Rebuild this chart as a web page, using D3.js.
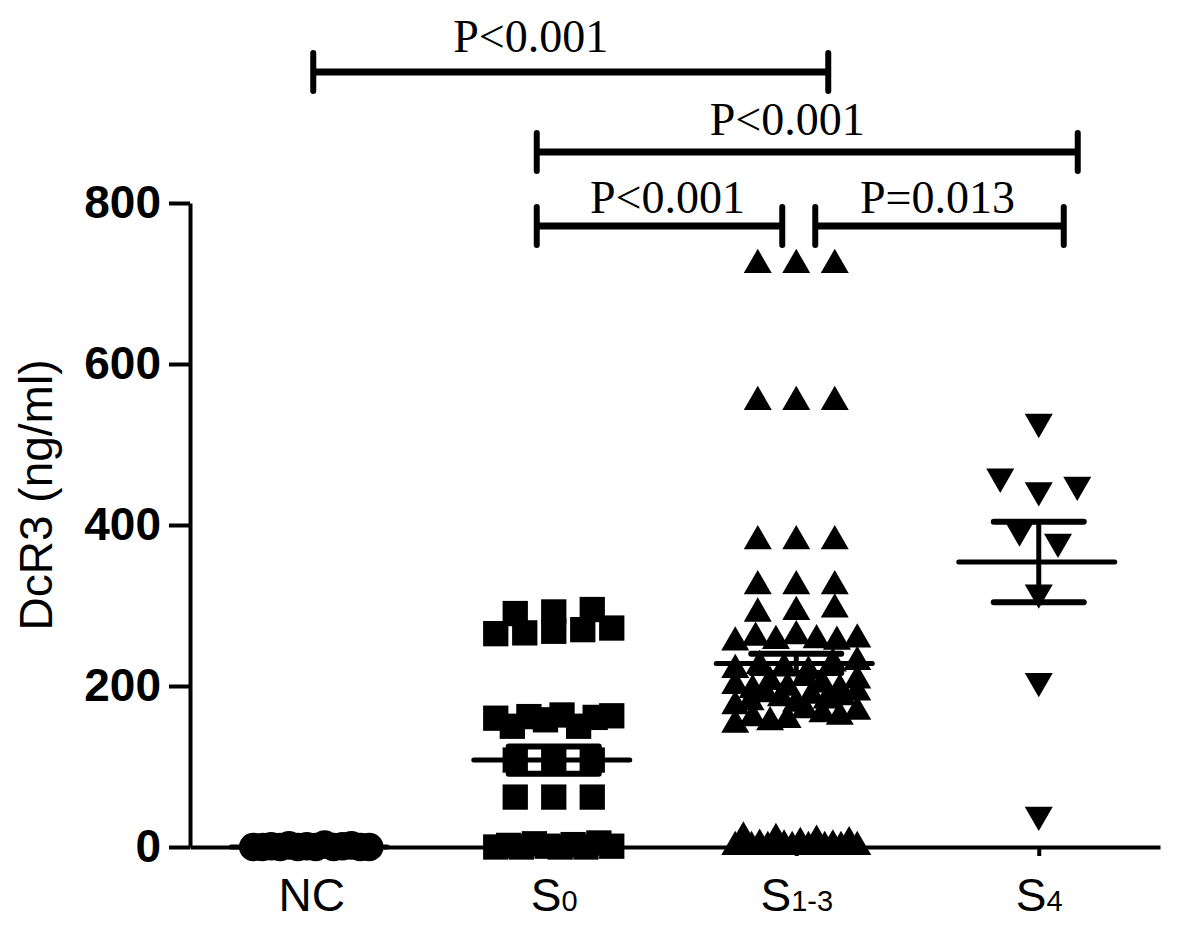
<!DOCTYPE html>
<html>
<head>
<meta charset="utf-8">
<script src="https://cdn.jsdelivr.net/npm/d3@7"></script>
<style>
  body { margin: 0; background: #fff; }
  svg { display: block; }
</style>
</head>
<body>
<svg id="chart"></svg>
<script>
// groups and the values
const groups = ["NC", "S0", "S1-3", "S4"];
const ncValues = [0, 0, 1, 0, 2, 0, 1, 0, 3, 0, 1, 2, 0, 0];
const s0Values = [0, 2, 0, 4, 1, 0, 3, 0, 5, 1,
  62, 62, 62, 108, 108, 108,
  160, 150, 162, 158, 164, 150, 161, 163,
  265, 266, 268, 270, 272, 290, 292, 295];
const s13Values = [0, 12, 0, 3, 0, 10, 2, 0, 5, 0, 8, 0, 2, 0, 6, 0,
  152, 160, 155, 158, 170, 165, 175, 162, 168,
  180, 190, 185, 178, 188, 182, 186, 192,
  200, 195, 205, 198, 210, 202, 196, 207,
  220, 225, 222, 218, 228, 230,
  254, 260, 256, 262, 257, 255, 258, 290, 292, 295,
  324, 324, 324, 380, 380, 380, 553, 553, 553, 723, 723, 723];
const s4Values = [528, 460, 443, 450, 393, 379, 316, 206, 40];
const groupValues = [ncValues, s0Values, s13Values, s4Values];
const means = [0, 108, 228, 354];
const sems = [0, 17, 12, 50];
const yTicks = [0, 200, 400, 600, 800];
const markerTypes = ["circle", "square", "up", "down"];
const brackets = [
  { from: "NC", to: "S1-3", label: "P<0.001" },
  { from: "S0", to: "S4", label: "P<0.001" },
  { from: "S0", to: "S1-3", label: "P<0.001" },
  { from: "S1-3", to: "S4", label: "P=0.013" }
];

const width = 1181, height = 927;
const margin = { top: 203, right: 21, bottom: 80, left: 190 };
const svg = d3.select("#chart").attr("width", width).attr("height", height);

const innerW = width - margin.left - margin.right;
const innerH = height - margin.top - margin.bottom;

const xScale = d3.scalePoint().domain(groups).range([0, innerW]).padding(0.5);
const yScale = d3.scaleLinear().domain([0, 800]).range([innerH, 0]);

const g = svg.append("g").attr("transform", `translate(${margin.left},${margin.top})`);

// spread points that share a value level, like a column scatter
const spreadRows = (values, tol, maxHalf, step) => {
  const pts = values.map((v, i) => ({ v, i })).sort((a, b) => a.v - b.v);
  const rows = [];
  pts.forEach((p) => {
    const r = rows[rows.length - 1];
    if (r && p.v - r.start <= tol) r.pts.push(p);
    else rows.push({ start: p.v, pts: [p] });
  });
  const out = [];
  rows.forEach((r) => {
    r.pts.sort((a, b) => a.i - b.i);
    const n = r.pts.length;
    const sp = n > 1 ? Math.min(step, (2 * maxHalf) / (n - 1)) : 0;
    r.pts.forEach((p, k) => out.push({ value: p.v, dx: (k - (n - 1) / 2) * sp }));
  });
  return out;
};

// axes
const yAxis = d3.axisLeft(yScale).tickValues(yTicks).tickSize(21).tickSizeOuter(0).tickPadding(8);
const yAxisG = g.append("g").call(yAxis);
yAxisG.select(".domain").attr("stroke-width", 4);
yAxisG.selectAll(".tick line").attr("stroke-width", 4);
yAxisG.selectAll(".tick text")
  .attr("font-family", "Liberation Sans, Arial, sans-serif")
  .attr("font-weight", "bold")
  .attr("font-size", 46)
  .attr("fill", "#000");

const xAxis = d3.axisBottom(xScale).tickSize(9).tickSizeOuter(0).tickFormat("");
const xAxisG = g.append("g").attr("transform", `translate(0,${innerH})`).call(xAxis);
xAxisG.select(".domain").attr("stroke-width", 4);
xAxisG.selectAll(".tick line").attr("stroke-width", 4);

const xLabels = xAxisG.selectAll(".tick")
  .append("text")
  .attr("y", 64)
  .attr("text-anchor", "middle")
  .attr("fill", "#000")
  .attr("font-family", "Liberation Sans, Arial, sans-serif")
  .attr("font-size", 46);
xLabels.each(function (d) {
  const t = d3.select(this);
  if (d === "NC") {
    t.text("NC");
  } else {
    t.append("tspan").text("S");
    t.append("tspan").attr("font-size", 29).text(d.slice(1));
  }
});

svg.append("text")
  .attr("transform", `translate(52,495) rotate(-90)`)
  .attr("text-anchor", "middle")
  .attr("font-family", "Liberation Sans, Arial, sans-serif")
  .attr("font-size", 46)
  .attr("fill", "#000")
  .text("DcR3 (ng/ml)");

// markers
const symbolFor = {
  circle: d3.symbol().type(d3.symbolCircle).size(640)(),
  square: d3.symbol().type(d3.symbolSquare).size(640)(),
  up: d3.symbol().type(d3.symbolTriangle).size(340)(),
  down: d3.symbol().type(d3.symbolTriangle).size(340)()
};

groups.forEach((grp, gi) => {
  const pts = spreadRows(groupValues[gi], 18, gi === 2 ? 61 : 58, 38.5);
  g.append("g")
    .selectAll("path")
    .data(pts)
    .enter()
    .append("path")
    .attr("d", symbolFor[markerTypes[gi]])
    .attr("fill", "#000")
    .attr("transform", (d) =>
      `translate(${xScale(grp) + d.dx},${yScale(d.value)})` +
      (markerTypes[gi] === "down" ? " rotate(180)" : ""));
});

// mean and SEM
const statG = g.append("g")
  .attr("stroke", "#000")
  .attr("stroke-linecap", "round");
groups.forEach((grp, gi) => {
  const cx = xScale(grp);
  statG.append("line")
    .attr("x1", cx - 80).attr("x2", cx + 76)
    .attr("y1", yScale(means[gi])).attr("y2", yScale(means[gi]))
    .attr("stroke-width", 5);
  if (sems[gi] > 0) {
    [means[gi] - sems[gi], means[gi] + sems[gi]].forEach((v) => {
      statG.append("line")
        .attr("x1", cx - 45).attr("x2", cx + 45)
        .attr("y1", yScale(v)).attr("y2", yScale(v))
        .attr("stroke-width", 6);
    });
    statG.append("line")
      .attr("x1", cx).attr("x2", cx)
      .attr("y1", yScale(means[gi] - sems[gi])).attr("y2", yScale(means[gi] + sems[gi]))
      .attr("stroke-width", 5);
  }
});

// significance brackets, placed in page pixels above the plot
const bracketLayout = [
  { y: 72, d1: 2, d2: 32, tdx: -40, ty: 52 },
  { y: 152, d1: -17, d2: 39, tdx: -20, ty: 135 },
  { y: 226, d1: -17, d2: -14, tdx: 8, ty: 213 },
  { y: 226, d1: 19, d2: 25, tdx: -2, ty: 213 }
];
const brG = svg.append("g").attr("transform", `translate(${margin.left},0)`);
brackets.forEach((b, i) => {
  const L = bracketLayout[i];
  const x1 = xScale(b.from) + L.d1;
  const x2 = xScale(b.to) + L.d2;
  brG.append("line")
    .attr("x1", x1).attr("x2", x2)
    .attr("y1", L.y).attr("y2", L.y)
    .attr("stroke", "#000").attr("stroke-width", 7);
  [x1, x2].forEach((xx) => {
    brG.append("line")
      .attr("x1", xx).attr("x2", xx)
      .attr("y1", L.y - 19).attr("y2", L.y + 19)
      .attr("stroke", "#000").attr("stroke-width", 6)
      .attr("stroke-linecap", "round");
  });
  brG.append("text")
    .attr("x", (x1 + x2) / 2 + L.tdx)
    .attr("y", L.ty)
    .attr("text-anchor", "middle")
    .attr("font-family", "Liberation Serif, Times New Roman, serif")
    .attr("font-size", 46)
    .attr("fill", "#000")
    .text(b.label);
});
</script>
</body>
</html>
